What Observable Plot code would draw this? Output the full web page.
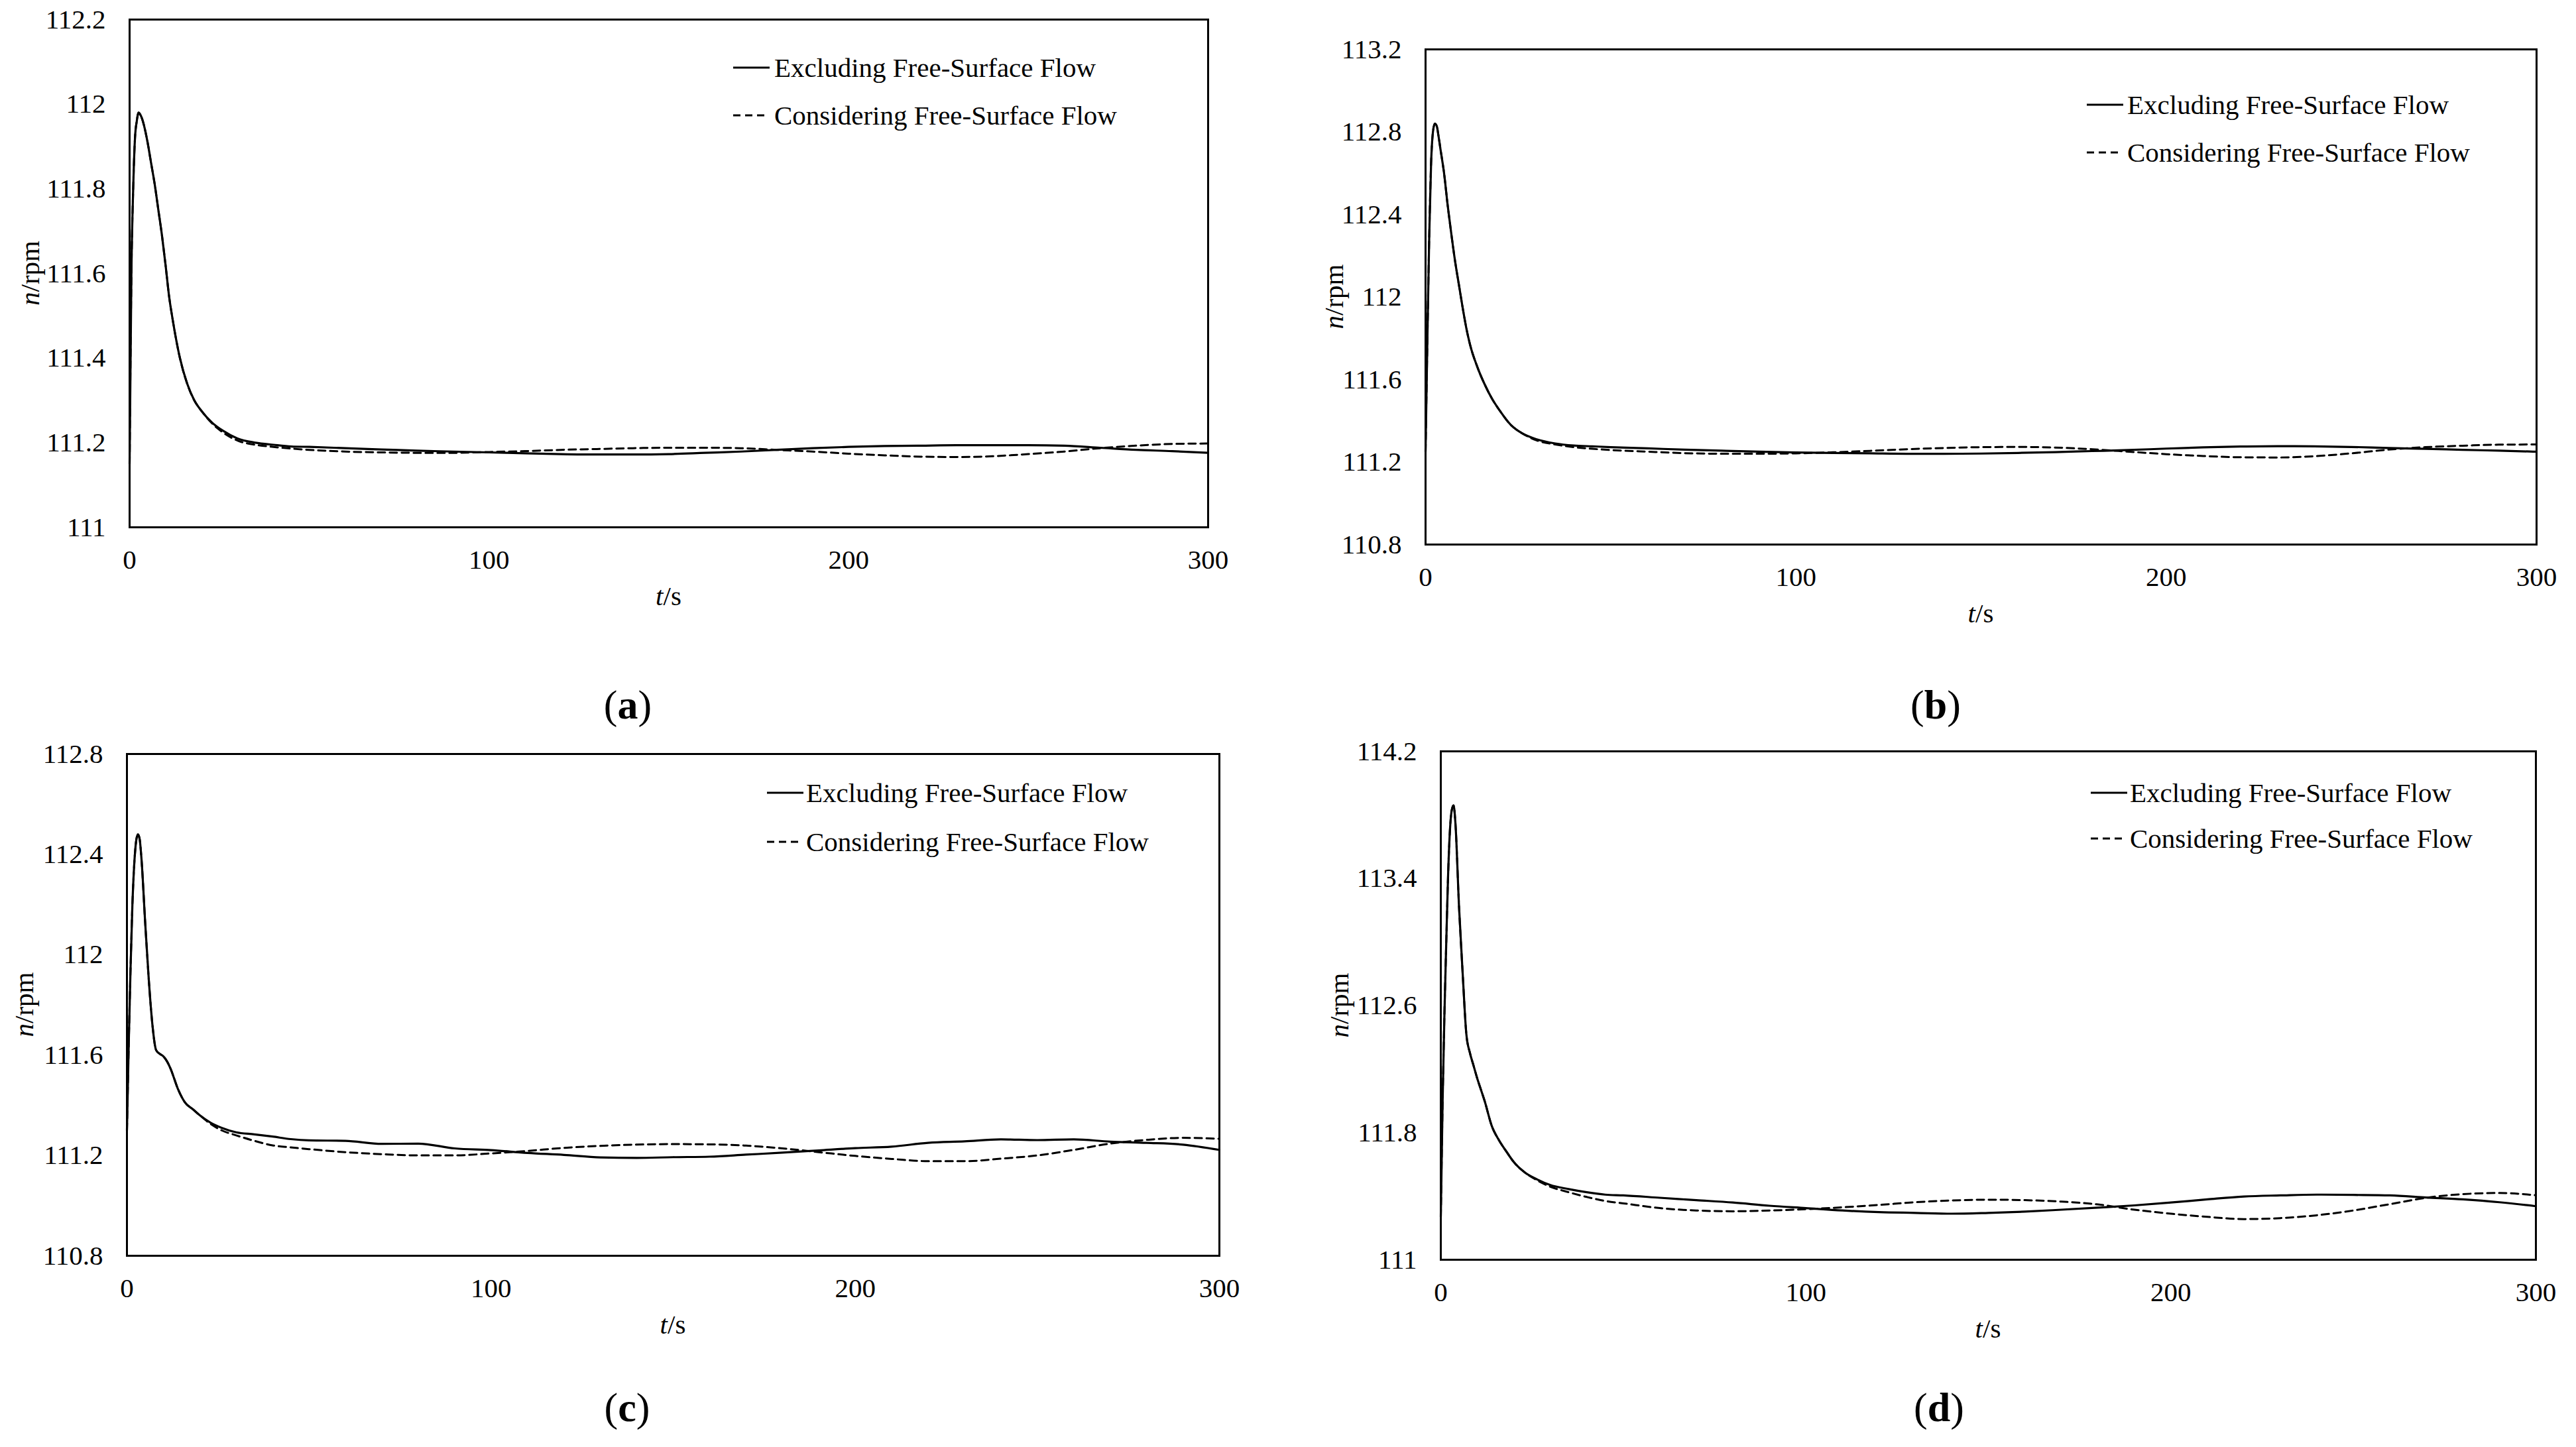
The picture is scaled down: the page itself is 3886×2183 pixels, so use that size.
<!DOCTYPE html>
<html><head><meta charset="utf-8">
<script src="https://cdn.jsdelivr.net/npm/d3@7"></script>
<script src="https://cdn.jsdelivr.net/npm/@observablehq/plot@0.6"></script>
<style>
html,body{margin:0;padding:0;background:#fff;}
#fig{position:relative;width:3886px;height:2183px;background:#fff;overflow:hidden;font-family:"Liberation Serif","Times New Roman",serif;}
#fig svg{position:absolute;max-width:none;}
.plabel{position:absolute;font-size:62px;transform:translate(-50%,-50%);line-height:1;color:#000;font-family:"Liberation Serif",serif;}
</style></head><body><div id="fig"></div>
<script>
// time grid (s)
const T = [0,0.5,1,1.5,2,2.5,3,3.5,4,5,6,7,8,9,10,11,12,14,16,18,20,23,26,30,35,40,45,50,60,70,80,90,100,110,120,130,140,150,160,170,180,190,200,210,220,230,240,250,260,270,280,290,300];
const xTicks = [0,100,200,300];
const seriesNames = ["Excluding Free-Surface Flow","Considering Free-Surface Flow"];

// (a)
const exA = [111.15,111.6,111.8,111.92,111.96,111.98,111.975,111.965,111.95,111.91,111.86,111.81,111.75,111.69,111.62,111.545,111.49,111.4,111.34,111.3,111.275,111.247,111.228,111.21,111.2,111.195,111.191,111.19,111.187,111.184,111.181,111.179,111.177,111.175,111.173,111.172,111.172,111.173,111.176,111.179,111.183,111.187,111.19,111.192,111.193,111.194,111.194,111.194,111.193,111.188,111.183,111.18,111.176];
const coA = [111.15,111.6,111.8,111.92,111.96,111.98,111.975,111.965,111.95,111.91,111.86,111.81,111.75,111.69,111.62,111.545,111.49,111.4,111.34,111.3,111.275,111.245,111.224,111.205,111.195,111.19,111.186,111.183,111.179,111.177,111.176,111.176,111.178,111.18,111.183,111.185,111.187,111.188,111.188,111.187,111.183,111.179,111.174,111.17,111.167,111.166,111.168,111.173,111.179,111.187,111.193,111.197,111.198];
const yTicksA = [111,111.2,111.4,111.6,111.8,112,112.2];

// (b)
const exB = [111.25,111.8,112.3,112.65,112.8,112.84,112.83,112.78,112.72,112.6,112.44,112.3,112.17,112.06,111.95,111.85,111.77,111.66,111.575,111.505,111.45,111.38,111.34,111.31,111.29,111.28,111.276,111.272,111.266,111.26,111.255,111.25,111.246,111.244,111.242,111.24,111.24,111.241,111.244,111.248,111.253,111.258,111.265,111.271,111.275,111.277,111.276,111.273,111.268,111.264,111.259,111.255,111.25];
const coB = [111.25,111.8,112.3,112.65,112.8,112.84,112.83,112.78,112.72,112.6,112.44,112.3,112.17,112.06,111.95,111.85,111.77,111.66,111.575,111.505,111.45,111.38,111.34,111.305,111.285,111.272,111.264,111.258,111.25,111.243,111.24,111.24,111.242,111.247,111.254,111.262,111.268,111.272,111.273,111.27,111.262,111.25,111.238,111.229,111.223,111.222,111.228,111.242,111.26,111.272,111.279,111.284,111.285];
const yTicksB = [110.8,111.2,111.6,112,112.4,112.8,113.2];

// (c)
const exC = [111.3,111.65,111.95,112.2,112.36,112.45,112.48,112.46,112.38,112.13,111.9,111.72,111.62,111.605,111.595,111.575,111.545,111.465,111.41,111.385,111.36,111.33,111.31,111.292,111.284,111.275,111.265,111.26,111.258,111.246,111.247,111.228,111.221,111.21,111.202,111.192,111.19,111.193,111.195,111.203,111.211,111.22,111.229,111.235,111.25,111.256,111.264,111.261,111.264,111.255,111.25,111.243,111.222];
const coC = [111.3,111.65,111.95,112.2,112.36,112.45,112.48,112.46,112.38,112.13,111.9,111.72,111.62,111.605,111.595,111.575,111.545,111.465,111.41,111.385,111.36,111.325,111.3,111.28,111.258,111.24,111.232,111.225,111.213,111.205,111.2,111.2,111.208,111.218,111.23,111.238,111.243,111.245,111.244,111.239,111.228,111.213,111.198,111.186,111.177,111.177,111.187,111.2,111.222,111.247,111.262,111.27,111.266];
const yTicksC = [110.8,111.2,111.6,112,112.4,112.8];

// (d)
const exD = [111.27,112.0,112.55,113.0,113.42,113.7,113.83,113.86,113.75,113.22,112.8,112.42,112.3,112.22,112.14,112.07,112.0,111.84,111.75,111.68,111.615,111.55,111.51,111.47,111.445,111.425,111.41,111.405,111.39,111.375,111.36,111.34,111.325,111.31,111.3,111.295,111.29,111.295,111.303,111.315,111.328,111.342,111.36,111.38,111.398,111.405,111.41,111.408,111.405,111.392,111.38,111.362,111.337];
const coD = [111.27,112.0,112.55,113.0,113.42,113.7,113.83,113.86,113.75,113.22,112.8,112.42,112.3,112.22,112.14,112.07,112.0,111.84,111.75,111.68,111.615,111.55,111.505,111.46,111.425,111.395,111.37,111.355,111.325,111.31,111.305,111.31,111.318,111.33,111.345,111.362,111.373,111.378,111.375,111.366,111.348,111.315,111.29,111.27,111.256,111.262,111.28,111.31,111.35,111.39,111.413,111.42,111.406];
const yTicksD = [111,111.8,112.6,113.4,114.2];

const panels = [
  {key:"a", left:0, top:0, w:1943, h:1100, frame:[195,29,1822,795], domain:[111,112.2], yTicks:yTicksA, ex:exA, co:coA,
   legend:{x0:1106,x1:1161,tx:1168,y1:102,y2:174}, yTitleX:45, label:{x:947,y:1063}},
  {key:"b", left:1943, top:0, w:1943, h:1100, frame:[2150,74,3826,821], domain:[110.8,113.2], yTicks:yTicksB, ex:exB, co:coB,
   legend:{x0:3148,x1:3203,tx:3209,y1:158,y2:230}, yTitleX:2012, label:{x:2920,y:1063}},
  {key:"c", left:0, top:1100, w:1943, h:1083, frame:[191,1137,1839,1894], domain:[110.8,112.8], yTicks:yTicksC, ex:exC, co:coC,
   legend:{x0:1157,x1:1212,tx:1216,y1:1196,y2:1270}, yTitleX:36, label:{x:946,y:2123}},
  {key:"d", left:1943, top:1100, w:1943, h:1083, frame:[2173,1133,3825,1900], domain:[111,114.2], yTicks:yTicksD, ex:exD, co:coD,
   legend:{x0:3154,x1:3209,tx:3213,y1:1196,y2:1265}, yTitleX:2020, label:{x:2925,y:2123}}
];

const fig = document.getElementById("fig");
const fmt = d => String(+(+d).toFixed(1));

for (const p of panels) {
  const rows = T.map((t, i) => ({t, ex: p.ex[i], co: p.co[i]}));
  const [L, Tp, R, B] = p.frame;
  const svg = Plot.plot({
    width: p.w, height: p.h,
    marginLeft: L - p.left, marginRight: p.left + p.w - R,
    marginTop: Tp - p.top, marginBottom: p.top + p.h - B,
    style: {fontFamily: "Liberation Serif", fontSize: "41px", color: "#000", background: "transparent", overflow: "visible"},
    x: {domain: [0, 300], ticks: xTicks, tickSize: 0, tickPadding: 33, label: null, tickFormat: d => String(d)},
    y: {domain: p.domain, ticks: p.yTicks, tickSize: 0, tickPadding: 36, label: null, tickFormat: fmt},
    marks: [
      Plot.line(rows, {x: "t", y: "co", stroke: "#000", strokeWidth: 3, strokeDasharray: "11,7", curve: "monotone-x"}),
      Plot.line(rows, {x: "t", y: "ex", stroke: "#000", strokeWidth: 3.2, curve: "monotone-x"}),
      Plot.frame({stroke: "#000", strokeWidth: 3})
    ]
  });
  svg.style.left = p.left + "px";
  svg.style.top = p.top + "px";
  svg.style.position = "absolute";
  fig.appendChild(svg);

  const g = d3.select(svg).append("g").attr("fill", "#000");
  // y-axis title
  const yt = g.append("text")
    .attr("transform", `translate(${p.yTitleX - p.left},${(Tp + B) / 2 - p.top}) rotate(-90)`)
    .attr("text-anchor", "middle").attr("dy", "0.35em");
  yt.append("tspan").attr("font-style", "italic").text("n");
  yt.append("tspan").text("/rpm");
  // x-axis title
  const xt = g.append("text")
    .attr("x", (L + R) / 2 - p.left).attr("y", B + 104 - p.top)
    .attr("text-anchor", "middle").attr("dy", "0.35em");
  xt.append("tspan").attr("font-style", "italic").text("t");
  xt.append("tspan").text("/s");
  // legend
  const lg = p.legend;
  g.append("line").attr("x1", lg.x0 - p.left).attr("x2", lg.x1 - p.left)
    .attr("y1", lg.y1 - p.top).attr("y2", lg.y1 - p.top)
    .attr("stroke", "#000").attr("stroke-width", 3);
  g.append("text").attr("x", lg.tx - p.left).attr("y", lg.y1 - p.top).attr("dy", "0.35em")
    .attr("text-anchor", "start").text(seriesNames[0]);
  g.append("line").attr("x1", lg.x0 - p.left).attr("x2", lg.x1 - p.left - 8)
    .attr("y1", lg.y2 - p.top).attr("y2", lg.y2 - p.top)
    .attr("stroke", "#000").attr("stroke-width", 3).attr("stroke-dasharray", "11,7");
  g.append("text").attr("x", lg.tx - p.left).attr("y", lg.y2 - p.top).attr("dy", "0.35em")
    .attr("text-anchor", "start").text(seriesNames[1]);

  // panel label
  const lab = document.createElement("div");
  lab.className = "plabel";
  lab.style.left = p.label.x + "px";
  lab.style.top = p.label.y + "px";
  lab.innerHTML = "(<b>" + p.key + "</b>)";
  fig.appendChild(lab);
}
</script>
</body></html>
